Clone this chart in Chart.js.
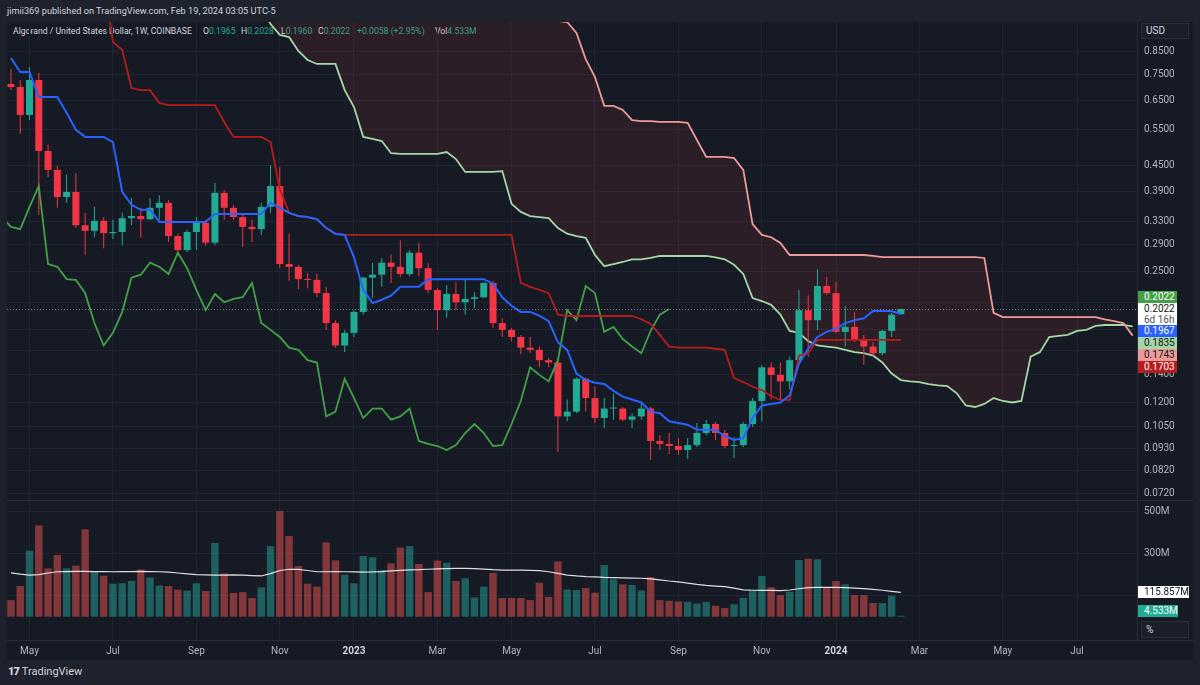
<!DOCTYPE html>
<html>
<head>
<meta charset="utf-8">
<title>ALGOUSD 1W</title>
<script src="https://cdn.jsdelivr.net/npm/chart.js@4.4.1/dist/chart.umd.min.js"></script>
<style>
  html, body { margin: 0; padding: 0; }
  body { width: 1200px; height: 685px; background: #1e222d; position: relative; overflow: hidden;
         font-family: Roboto, "Noto Sans", sans-serif; color: #d1d4dc; }
  .abs { position: absolute; }
  #panel { left: 7px; top: 22px; width: 1186px; height: 638px; background: #161a25; }
  #header { left: 7px; top: 5px; font-size: 9.2px; color: #d1d4dc; white-space: nowrap; }
  .leg { top: 25px; font-size: 9.3px; color: #d1d4dc; white-space: nowrap; }
  .leg b { font-weight: normal; color: #22ab94; }
  .squeeze { transform: scaleX(0.93); transform-origin: left center; }
  .hline { left: 7px; width: 1186px; height: 1px; background: #2a2e39; }
  .box { position: absolute; left: 1138px; width: 39px; height: 12px; font-size: 10px; line-height: 12px;
         padding-left: 6px; box-sizing: border-box; white-space: nowrap; }
  .btn { left: 1141px; width: 48px; height: 16px; border: 1px solid #2a2e39; box-sizing: border-box;
         background: #1b1f2a; font-size: 10px; line-height: 14px; padding-left: 4px; color: #d1d4dc; }
  #logo { left: 8px; top: 665px; font-size: 11px; color: #d1d4dc; white-space: nowrap; }
  #logo span { font-weight: 900; letter-spacing: -1px; margin-right: 3px; }
</style>
</head>
<body>
<div id="panel" class="abs"></div>
<div id="header" class="abs">jimii369 published on TradingView.com, Feb 19, 2024 03:05 UTC-5</div>
<div class="abs leg squeeze" style="left:13px">Algorand / United States Dollar, 1W, COINBASE</div>
<div class="abs leg squeeze" style="left:203px">O<b>0.1965</b></div>
<div class="abs leg squeeze" style="left:241px">H<b>0.2028</b></div>
<div class="abs leg squeeze" style="left:281px">L<b>0.1960</b></div>
<div class="abs leg squeeze" style="left:318px">C<b>0.2022</b></div>
<div class="abs leg squeeze" style="left:357px"><b>+0.0058 (+2.95%)</b></div>
<div class="abs leg squeeze" style="left:435px">Vol<b>4.533M</b></div>

<canvas id="price" class="abs" width="1186" height="478" style="left:7px;top:22px"></canvas>
<div class="abs hline" style="top:500px"></div>
<canvas id="volume" class="abs" width="1186" height="159" style="left:7px;top:501px"></canvas>
<div class="abs hline" style="top:640px"></div>

<div class="abs btn" style="top:23px">USD</div>
<div class="box" style="top:291px;background:#43a047;color:#fff">0.2022</div>
<div class="box" style="top:303px;height:22px;background:#fff;color:#131722;line-height:11px">0.2022<br><span style="color:#50535e">6d 16h</span></div>
<div class="box" style="top:325px;background:#2962ff;color:#fff">0.1967</div>
<div class="box" style="top:337px;background:#a5d6a7;color:#131722">0.1835</div>
<div class="box" style="top:349px;background:#ef9a9a;color:#131722">0.1743</div>
<div class="box" style="top:361px;background:#b71c1c;color:#fff">0.1703</div>
<div class="box" style="top:586px;width:51px;background:#fff;color:#131722">115.857M</div>
<div class="box" style="top:605px;width:40px;background:#22ab94;color:#fff">4.533M</div>
<div class="abs btn" style="top:621px;height:17px;line-height:15px">%</div>
<div id="logo" class="abs"><span>17</span>TradingView</div>

<script>
// weekly candles, first bar = week of 2022-04-18
const firstWeek = '2022-04-18';
const WEEK = 7 * 24 * 3600 * 1000;
const LAG = 25;         // lagging span is drawn 25 bars back
const SPAN_START = 27;  // first drawn position of the leading spans

const opens = [0.711,0.699,0.598,0.727,0.489,0.440,0.378,0.389,0.323,0.313,
  0.331,0.309,0.311,0.336,0.340,0.334,0.356,0.366,0.304,0.281,
  0.311,0.327,0.293,0.387,0.356,0.338,0.320,0.316,0.358,0.402,
  0.260,0.256,0.239,0.238,0.221,0.187,0.165,0.177,0.199,0.241,
  0.245,0.262,0.256,0.246,0.277,0.254,0.225,0.201,0.220,0.210,
  0.214,0.216,0.234,0.187,0.180,0.173,0.163,0.161,0.152,0.150,
  0.111,0.114,0.137,0.123,0.110,0.116,0.116,0.109,0.111,0.116,
  0.0968,0.0952,0.0941,0.0920,0.0946,0.1012,0.1064,0.1012,0.0941,0.0946,
  0.1064,0.121,0.146,0.140,0.135,0.152,0.201,0.190,0.230,0.221,
  0.178,0.183,0.171,0.164,0.158,0.179,0.1965];
const highs = [0.773,0.727,0.782,0.756,0.506,0.450,0.428,0.432,0.346,0.358,
  0.338,0.333,0.346,0.376,0.356,0.376,0.382,0.372,0.308,0.315,
  0.338,0.333,0.409,0.393,0.362,0.342,0.333,0.366,0.452,0.447,
  0.309,0.259,0.247,0.246,0.229,0.190,0.180,0.201,0.242,0.262,
  0.269,0.274,0.297,0.281,0.293,0.262,0.227,0.231,0.235,0.238,
  0.222,0.235,0.237,0.192,0.182,0.175,0.173,0.164,0.154,0.152,
  0.122,0.138,0.138,0.131,0.123,0.126,0.117,0.113,0.120,0.117,
  0.1000,0.1012,0.0984,0.0984,0.1070,0.1088,0.1076,0.1029,0.0990,0.1076,
  0.1230,0.148,0.150,0.150,0.155,0.225,0.218,0.253,0.242,0.235,
  0.206,0.199,0.175,0.168,0.180,0.198,0.2028];
const lows = [0.687,0.538,0.581,0.342,0.423,0.356,0.366,0.318,0.274,0.302,
  0.284,0.299,0.289,0.323,0.301,0.332,0.333,0.294,0.275,0.278,
  0.281,0.288,0.289,0.333,0.333,0.286,0.294,0.306,0.346,0.254,
  0.237,0.226,0.227,0.216,0.180,0.163,0.159,0.173,0.196,0.215,
  0.229,0.234,0.242,0.243,0.243,0.221,0.180,0.193,0.201,0.196,
  0.203,0.215,0.182,0.173,0.169,0.157,0.158,0.146,0.146,0.091,
  0.108,0.113,0.114,0.107,0.104,0.109,0.108,0.104,0.109,0.087,
  0.0920,0.0900,0.0895,0.0875,0.0936,0.1000,0.0973,0.0930,0.0880,0.0936,
  0.1046,0.108,0.122,0.122,0.129,0.150,0.155,0.180,0.219,0.177,
  0.164,0.168,0.148,0.156,0.156,0.173,0.1960];
const closes = [0.699,0.598,0.727,0.489,0.440,0.378,0.389,0.323,0.313,0.331,
  0.309,0.311,0.336,0.340,0.334,0.356,0.366,0.304,0.281,0.311,
  0.327,0.293,0.387,0.356,0.338,0.320,0.316,0.358,0.402,0.260,
  0.256,0.239,0.238,0.221,0.187,0.165,0.177,0.199,0.241,0.245,
  0.262,0.256,0.246,0.277,0.254,0.225,0.201,0.220,0.210,0.214,
  0.216,0.234,0.187,0.180,0.173,0.163,0.161,0.152,0.150,0.111,
  0.114,0.137,0.123,0.110,0.116,0.116,0.109,0.111,0.116,0.0968,
  0.0952,0.0941,0.0920,0.0946,0.1012,0.1064,0.1012,0.0941,0.0946,0.1064,
  0.121,0.146,0.140,0.135,0.152,0.201,0.190,0.230,0.221,0.178,
  0.183,0.171,0.164,0.158,0.179,0.196,0.2022];

// volume in millions and its moving average
const volumes = [79,146,314,435,230,294,230,243,416,214,
  195,157,159,170,225,187,149,146,129,124,
  159,122,351,206,113,117,89,140,336,503,
  384,241,157,143,354,268,200,159,289,283,
  222,254,329,336,251,117,267,257,170,183,
  92,143,209,89,89,89,79,162,94,263,
  129,127,136,114,246,178,154,151,125,189,
  79,76,73,71,63,71,52,41,59,90,
  124,194,140,103,119,270,276,273,140,170,
  154,103,103,65,65,100,4.533];
const volumeMA = [209,203,198,200,208,214,215,216,216,215,
  215,214,215,215,216,215,214,212,208,204,
  200,199,198,198,199,198,196,194,205,220,
  226,225,220,214,214,215,214,213,212,213,
  215,218,221,223,224,226,228,229,230,230,
  229,227,224,222,222,222,221,219,214,206,
  198,194,191,190,187,186,185,184,183,180,
  175,170,166,160,154,149,146,143,136,128,
  126,125,125,124,127,133,138,140,140,140,
  138,136,134,130,126,121,115.857];

// Ichimoku lines
const tenkan = [0.822,0.760,0.760,0.661,0.661,0.661,0.605,0.550,0.529,0.529,
  0.529,0.514,0.389,0.362,0.352,0.352,0.329,0.329,0.329,0.329,
  0.329,0.329,0.344,0.344,0.344,0.344,0.344,0.344,0.366,0.356,
  0.346,0.340,0.338,0.334,0.318,0.308,0.306,0.270,0.225,0.209,
  0.213,0.218,0.229,0.229,0.229,0.239,0.239,0.239,0.239,0.239,
  0.239,0.239,0.233,0.216,0.206,0.199,0.199,0.195,0.189,0.168,
  0.161,0.141,0.136,0.134,0.133,0.128,0.124,0.122,0.120,0.114,
  0.113,0.108,0.107,0.106,0.103,0.103,0.103,0.0995,0.0973,0.0984,
  0.110,0.118,0.119,0.120,0.125,0.149,0.162,0.173,0.178,0.181,
  0.187,0.190,0.192,0.200,0.200,0.200,0.1967];
const kijun = [1.27,1.27,1.27,1.27,1.27,1.27,1.27,1.27,1.27,1.27,
  1.27,0.899,0.860,0.695,0.687,0.687,0.639,0.632,0.632,0.632,
  0.632,0.632,0.632,0.575,0.529,0.529,0.529,0.529,0.514,0.395,
  0.346,0.340,0.338,0.334,0.318,0.308,0.306,0.306,0.306,0.306,
  0.306,0.306,0.306,0.306,0.306,0.306,0.306,0.306,0.306,0.306,
  0.306,0.306,0.306,0.306,0.306,0.234,0.229,0.225,0.221,0.196,
  0.1945,0.1945,0.1945,0.1945,0.1945,0.1945,0.1945,0.1945,0.191,0.186,
  0.175,0.164,0.163,0.163,0.163,0.163,0.162,0.161,0.1375,0.1345,
  0.131,0.1286,0.1244,0.1217,0.1217,0.156,0.158,0.1703,0.1703,0.1703,
  0.1703,0.1703,0.1703,0.1703,0.1703,0.1703,0.1703];
const spanA = [1.087,0.994,0.935,0.924,0.855,0.813,0.795,0.795,0.795,0.687,
  0.625,0.529,0.523,0.517,0.483,0.481,0.481,0.481,0.481,0.481,
  0.486,0.4675,0.435,0.435,0.435,0.435,0.437,0.364,0.348,0.340,
  0.338,0.336,0.318,0.308,0.304,0.301,0.2735,0.257,0.260,0.263,
  0.267,0.267,0.269,0.272,0.272,0.272,0.272,0.272,0.272,0.270,
  0.267,0.259,0.246,0.215,0.2115,0.207,0.196,0.179,0.177,0.169,
  0.165,0.164,0.163,0.161,0.159,0.158,0.156,0.150,0.141,0.136,
  0.135,0.1345,0.133,0.132,0.1315,0.1265,0.118,0.117,0.119,0.123,
  0.121,0.120,0.121,0.155,0.159,0.173,0.174,0.175,0.179,0.180,
  0.184,0.185,0.185,0.185,0.1835];
const spanB = [1.10,1.10,1.10,1.10,1.10,1.10,1.10,1.10,1.10,1.10,
  1.10,1.10,1.10,1.10,1.10,1.10,1.10,1.10,1.10,1.10,
  1.10,1.10,1.10,1.10,1.10,1.10,1.10,1.10,1.10,1.10,
  1.10,1.06,1.011,1.005,0.945,0.817,0.739,0.629,0.629,0.615,
  0.581,0.578,0.578,0.575,0.575,0.575,0.572,0.520,0.473,0.473,
  0.473,0.470,0.440,0.325,0.306,0.302,0.2925,0.2735,0.2735,0.2735,
  0.2735,0.2735,0.2735,0.2735,0.2735,0.2735,0.272,0.2704,0.2704,0.2704,
  0.2704,0.2704,0.2704,0.2704,0.2704,0.2704,0.2704,0.2704,0.269,0.198,
  0.1934,0.1934,0.1934,0.1934,0.1934,0.1934,0.1934,0.1934,0.1934,0.1934,
  0.1934,0.191,0.189,0.187,0.1743];

const monthTicks = ['2022-05-01','2022-07-01','2022-09-01','2022-11-01','2023-01-01','2023-03-01','2023-05-01',
  '2023-07-01','2023-09-01','2023-11-01','2024-01-01','2024-03-01','2024-05-01','2024-07-01'];
const monthLabels = ['May','Jul','Sep','Nov','2023','Mar','May','Jul','Sep','Nov','2024','Mar','May','Jul'];
const priceTicks = [0.85,0.75,0.65,0.55,0.45,0.39,0.33,0.29,0.25,0.21,0.18,0.16,0.14,0.12,0.105,0.093,0.082,0.072];
const volumeTicks = [100,300,500];

const UP = '#22ab94', DOWN = '#f23645';
const GRID = '#202430';
const TEXT = '#b2b5be';

Chart.defaults.font.family = 'Roboto, "Noto Sans", sans-serif';
Chart.defaults.font.size = 10;

// first weekly bar that falls inside the month
const weekOf = d => Math.ceil((Date.parse(d) - Date.parse(firstWeek)) / WEEK);
const weeks = closes.map((c, i) => i);
const isUp = weeks.map(i => closes[i] >= opens[i]);
const candleColors = isUp.map(u => u ? UP : DOWN);
const volColors = isUp.map(u => u ? 'rgba(38,166,154,0.5)' : 'rgba(239,83,80,0.5)');

const xRange = { min: -0.43, max: 121.47 };

function timeAxis(showLabels) {
  return {
    type: 'linear', min: xRange.min, max: xRange.max, offset: false, bounds: 'data',
    grid: { color: GRID, drawTicks: false, offset: false },
    border: { display: showLabels, color: '#2a2e39' },
    ticks: {
      display: showLabels, autoSkip: false, maxRotation: 0, padding: 5,
      color: ctx => /^\d{4}$/.test(ctx.tick && ctx.tick.label) ? '#d1d4dc' : TEXT,
      font: ctx => ({ size: 10, weight: /^\d{4}$/.test(ctx.tick && ctx.tick.label) ? 'bold' : 'normal' }),
      callback: (v, i) => monthLabels[i]
    },
    afterBuildTicks: s => { s.ticks = monthTicks.map(d => ({ value: weekOf(d) })); },
    afterFit: s => { s.height = showLabels ? 20 : 0; s.paddingLeft = 0; s.paddingRight = 0; }
  };
}

const lastPriceLine = {
  id: 'lastPriceLine',
  afterDatasetsDraw(chart) {
    const { ctx, chartArea: a, scales: { y } } = chart;
    const py = Math.round(y.getPixelForValue(closes[closes.length - 1])) + 0.5;
    ctx.save();
    ctx.strokeStyle = 'rgba(178,181,190,0.55)';
    ctx.lineWidth = 1;
    ctx.setLineDash([1, 2]);
    ctx.beginPath();
    ctx.moveTo(a.left, py);
    ctx.lineTo(a.right, py);
    ctx.stroke();
    ctx.restore();
  }
};

const line = (label, points, color, order, extra) => Object.assign({
  type: 'line', label: label, data: points, borderColor: color, borderWidth: 1.8,
  pointRadius: 0, fill: false, tension: 0, order: order
}, extra || {});

new Chart(document.getElementById('price'), {
  type: 'bar',
  data: {
    datasets: [
      line('Leading Span A', spanA.map((v, k) => ({ x: k + SPAN_START, y: v })), '#a5d6a7', 30,
        { fill: { target: '+1', above: 'rgba(67,160,71,0.1)', below: 'rgba(244,67,54,0.1)' } }),
      line('Leading Span B', spanB.map((v, k) => ({ x: k + SPAN_START, y: v })), '#ef9a9a', 29),
      {
        label: 'wicks', data: weeks.map(i => ({ x: i, y: [lows[i], highs[i]] })),
        backgroundColor: candleColors, grouped: false, barPercentage: 1, maxBarThickness: 1,
        inflateAmount: 0, order: 21
      },
      {
        label: 'bodies', data: weeks.map(i => ({ x: i, y: [opens[i], closes[i]] })),
        backgroundColor: candleColors, grouped: false, barPercentage: 1, maxBarThickness: 7,
        minBarLength: 1, inflateAmount: 0, order: 20
      },
      line('Lagging Span', closes.map((c, i) => ({ x: i - LAG, y: c })), '#43a047', 3),
      line('Base Line', kijun.map((v, i) => ({ x: i, y: v })), '#b71c1c', 2),
      line('Conversion Line', tenkan.map((v, i) => ({ x: i, y: v })), '#2962ff', 1, { borderWidth: 2 })
    ]
  },
  options: {
    responsive: false, animation: false, devicePixelRatio: 1, events: [],
    layout: { padding: 0 },
    plugins: { legend: { display: false }, tooltip: { enabled: false } },
    scales: {
      x: timeAxis(false),
      y: {
        type: 'logarithmic', position: 'right', min: 0.0696, max: 1.005, bounds: 'data', beginAtZero: false,
        grid: { color: GRID, drawTicks: false },
        border: { color: '#2a2e39' },
        ticks: { color: TEXT, padding: 7, crossAlign: 'near', autoSkip: false, callback: v => Number(v).toFixed(4) },
        afterBuildTicks: s => { s.ticks = priceTicks.map(v => ({ value: v })); },
        afterFit: s => { s.width = 56; s.paddingTop = 0; s.paddingBottom = 0; }
      }
    }
  },
  plugins: [lastPriceLine]
});

new Chart(document.getElementById('volume'), {
  type: 'bar',
  data: {
    datasets: [
      line('Volume MA', volumeMA.map((v, i) => ({ x: i, y: v })), 'rgba(255,255,255,0.85)', 1, { borderWidth: 1.2 }),
      {
        label: 'Volume', data: volumes.map((v, i) => ({ x: i, y: v })),
        backgroundColor: volColors, grouped: false, barPercentage: 1, maxBarThickness: 8,
        inflateAmount: 0, order: 5
      }
    ]
  },
  options: {
    responsive: false, animation: false, devicePixelRatio: 1, events: [],
    layout: { padding: 0 },
    plugins: { legend: { display: false }, tooltip: { enabled: false } },
    scales: {
      x: timeAxis(true),
      y: {
        type: 'linear', position: 'right', min: -111, max: 551, bounds: 'data',
        grid: { color: GRID, drawTicks: false },
        border: { color: '#2a2e39' },
        ticks: { color: TEXT, padding: 7, crossAlign: 'near', autoSkip: false, callback: v => v + 'M' },
        afterBuildTicks: s => { s.ticks = volumeTicks.map(v => ({ value: v })); },
        afterFit: s => { s.width = 56; s.paddingTop = 0; s.paddingBottom = 0; }
      }
    }
  }
});
</script>
</body>
</html>
